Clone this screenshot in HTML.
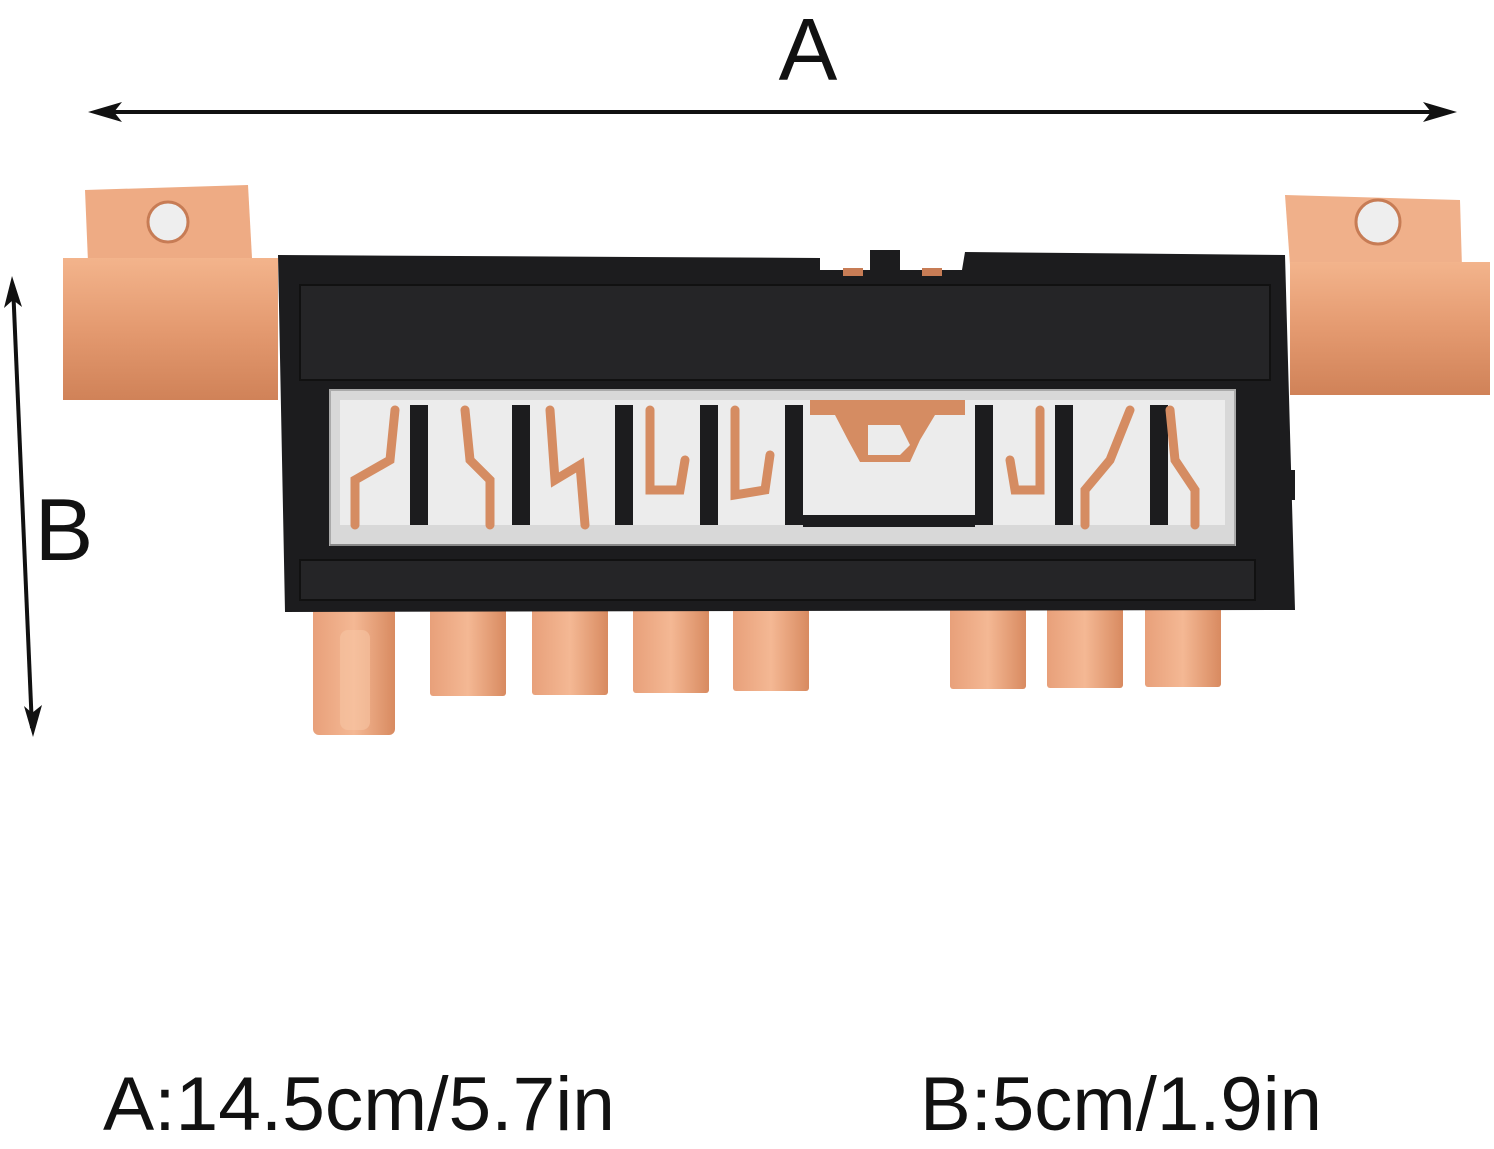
<!DOCTYPE html>
<html><head><meta charset="utf-8">
<style>
html,body{margin:0;padding:0;background:#fff;}
body{width:1494px;height:1144px;overflow:hidden;}
</style></head>
<body>
<svg width="1494" height="1144" viewBox="0 0 1494 1144" xmlns="http://www.w3.org/2000/svg">
<defs>
<linearGradient id="cu" x1="0" y1="0" x2="0" y2="1">
<stop offset="0" stop-color="#f3b48c"/><stop offset="0.5" stop-color="#e49a70"/><stop offset="1" stop-color="#d08258"/>
</linearGradient>
<linearGradient id="cu2" x1="0" y1="0" x2="1" y2="0">
<stop offset="0" stop-color="#e8a07a"/><stop offset="0.5" stop-color="#f4b894"/><stop offset="1" stop-color="#d88a60"/>
</linearGradient>
</defs>
<!-- A dimension -->
<text x="808" y="80" font-family="Liberation Sans, sans-serif" font-size="88" text-anchor="middle" fill="#111">A</text>
<line x1="95" y1="112" x2="1450" y2="112" stroke="#111" stroke-width="4"/>
<polygon points="88,112 122,102 114,112 122,122" fill="#111"/>
<polygon points="1457,112 1423,102 1431,112 1423,122" fill="#111"/>
<!-- B dimension -->
<line x1="13" y1="285" x2="32" y2="728" stroke="#111" stroke-width="4"/>
<polygon points="12,276 4,308 13,300 22,307" fill="#111"/>
<polygon points="33,737 24,706 32,713 42,705" fill="#111"/>
<text x="64" y="560" font-family="Liberation Sans, sans-serif" font-size="88" text-anchor="middle" fill="#111">B</text>

<!-- left copper -->
<polygon points="85,190 248,185 252,258 88,262" fill="#eeab84"/>
<circle cx="168" cy="222" r="20" fill="#eee" stroke="#c77c55" stroke-width="3"/>
<rect x="63" y="258" width="215" height="142" fill="url(#cu)"/>
<!-- right copper -->
<polygon points="1285,195 1460,200 1462,268 1290,265" fill="#f0b08a"/>
<circle cx="1378" cy="222" r="22" fill="#eee" stroke="#c77c55" stroke-width="3"/>
<rect x="1290" y="262" width="200" height="133" fill="url(#cu)"/>

<!-- pins -->
<rect x="313" y="605" width="82" height="130" rx="6" fill="url(#cu2)"/>
<rect x="340" y="630" width="30" height="100" rx="8" fill="#f6c4a4" opacity="0.6"/>
<rect x="430" y="605" width="76" height="91" rx="3" fill="url(#cu2)"/>
<rect x="532" y="605" width="76" height="90" rx="3" fill="url(#cu2)"/>
<rect x="633" y="605" width="76" height="88" rx="3" fill="url(#cu2)"/>
<rect x="733" y="605" width="76" height="86" rx="3" fill="url(#cu2)"/>
<rect x="950" y="605" width="76" height="84" rx="3" fill="url(#cu2)"/>
<rect x="1047" y="605" width="76" height="83" rx="3" fill="url(#cu2)"/>
<rect x="1145" y="605" width="76" height="82" rx="3" fill="url(#cu2)"/>

<!-- black housing -->
<path d="M278,255 L820,258 L820,270 L962,270 L965,252 L1285,255 L1295,610 L285,612 Z" fill="#1c1c1e"/>
<rect x="870" y="250" width="30" height="25" fill="#1c1c1e"/>
<rect x="843" y="268" width="20" height="8" fill="#c77c55"/>
<rect x="922" y="268" width="20" height="8" fill="#c77c55"/>
<rect x="300" y="285" width="970" height="95" fill="#252527" stroke="#111" stroke-width="2"/>
<rect x="300" y="560" width="955" height="40" fill="#252527" stroke="#111" stroke-width="2"/>
<rect x="1283" y="470" width="12" height="30" fill="#1c1c1e"/>
<!-- window -->
<rect x="330" y="390" width="905" height="155" fill="#d8d8d8" stroke="#aaa" stroke-width="2"/>
<rect x="340" y="400" width="885" height="125" fill="#ececec"/>
<g fill="#1c1c1e">
<rect x="410" y="405" width="18" height="120"/>
<rect x="512" y="405" width="18" height="120"/>
<rect x="615" y="405" width="18" height="120"/>
<rect x="700" y="405" width="18" height="120"/>
<rect x="785" y="405" width="18" height="120"/>
<rect x="975" y="405" width="18" height="120"/>
<rect x="1055" y="405" width="18" height="120"/>
<rect x="1150" y="405" width="18" height="120"/>
<rect x="803" y="515" width="172" height="12"/>
</g>
<g fill="none" stroke="#d58c62" stroke-width="9" stroke-linecap="round">
<path d="M395,410 L390,460 L355,480 L355,525"/>
<path d="M465,410 L470,460 L490,480 L490,525"/>
<path d="M550,410 L555,480 L580,465 L585,525"/>
<path d="M650,410 L650,490 L680,490 L685,460"/>
<path d="M735,410 L735,495 L765,490 L770,455"/>
<path d="M1040,410 L1040,490 L1015,490 L1010,460"/>
<path d="M1130,410 L1110,460 L1085,490 L1085,525"/>
<path d="M1170,410 L1175,460 L1195,490 L1195,525"/>
</g>
<path d="M810,400 L965,400 L965,415 L935,415 L920,440 L910,462 L860,462 L848,440 L835,415 L810,415 Z" fill="#d58c62"/>
<path d="M868,425 L900,425 L910,445 L900,455 L868,455 Z" fill="#ececec"/>
<line x1="330" y1="545" x2="1235" y2="545" stroke="#888" stroke-width="2"/>

<!-- bottom text -->
<text x="103" y="1130" font-family="Liberation Sans, sans-serif" font-size="76" fill="#111" textLength="512" lengthAdjust="spacingAndGlyphs">A:14.5cm/5.7in</text>
<text x="920" y="1130" font-family="Liberation Sans, sans-serif" font-size="76" fill="#111" textLength="402" lengthAdjust="spacingAndGlyphs">B:5cm/1.9in</text>
</svg>
</body></html>
